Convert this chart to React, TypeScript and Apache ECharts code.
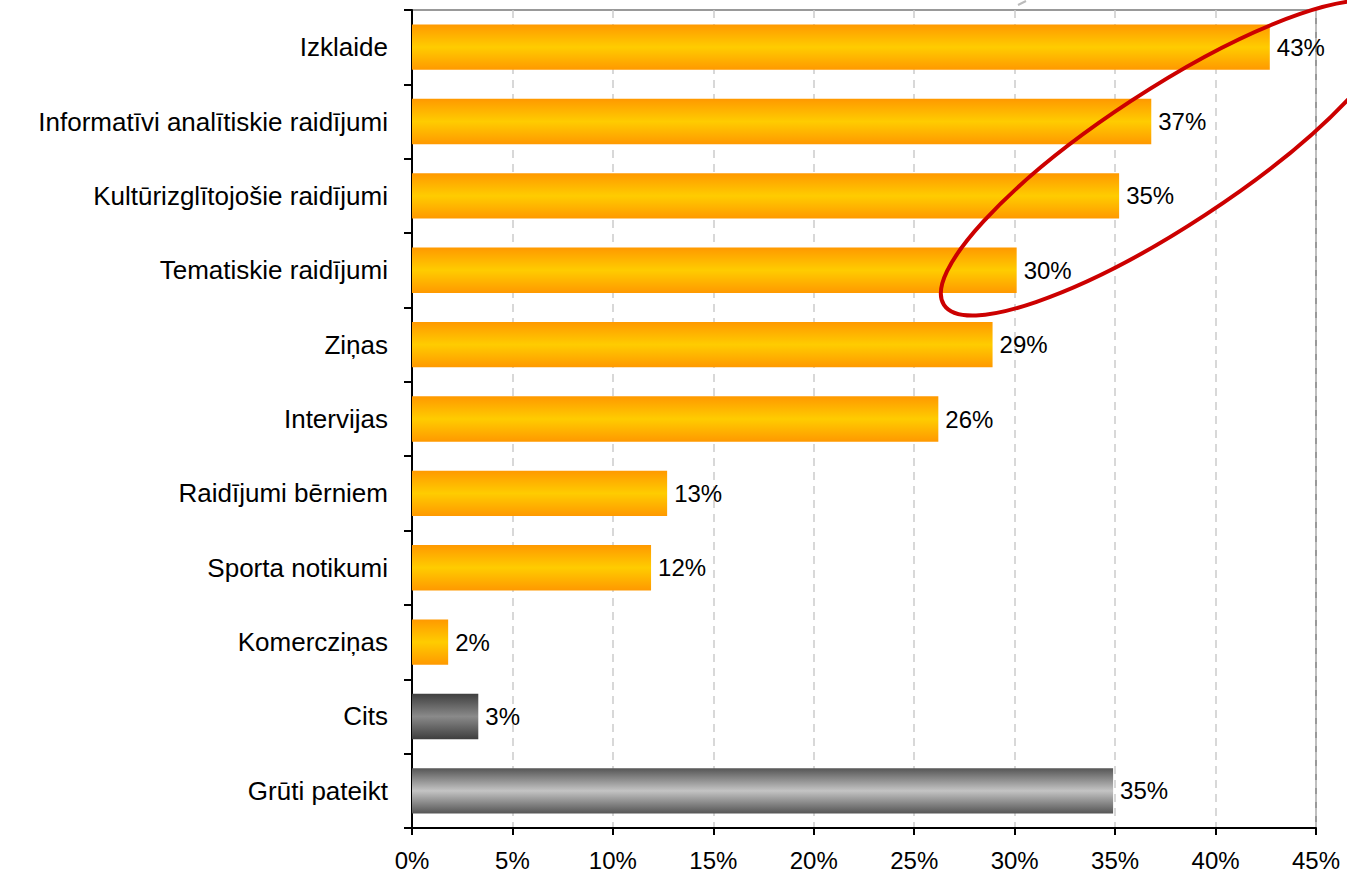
import React, { useEffect, useRef } from "react";
import * as echarts from "echarts";

const categories = [
  "Izklaide",
  "Informatīvi analītiskie raidījumi",
  "Kultūrizglītojošie raidījumi",
  "Tematiskie raidījumi",
  "Ziņas",
  "Intervijas",
  "Raidījumi bērniem",
  "Sporta notikumi",
  "Komercziņas",
  "Cits",
  "Grūti pateikt",
];
const values = [42.7, 36.8, 35.2, 30.1, 28.9, 26.2, 12.7, 11.9, 1.8, 3.3, 34.9];
const valueLabels = ["43%", "37%", "35%", "30%", "29%", "26%", "13%", "12%", "2%", "3%", "35%"];
const barKinds = ["o", "o", "o", "o", "o", "o", "o", "o", "o", "dark", "light"];

const grad = (edge: string, mid: string) =>
  new echarts.graphic.LinearGradient(0, 0, 0, 1, [
    { offset: 0, color: edge },
    { offset: 0.5, color: mid },
    { offset: 1, color: edge },
  ]);

export default function App() {
  const ref = useRef<HTMLDivElement>(null);
  useEffect(() => {
    if (!ref.current) return;
    const chart = echarts.init(ref.current, undefined, { renderer: "svg" });
    const font = "'Liberation Sans', Arial, Helvetica, sans-serif";
    const colorFor = (k: string) =>
      k === "dark" ? grad("#3f3f3f", "#8a8a8a") : k === "light" ? grad("#555555", "#c4c4c4") : grad("#ff9900", "#ffcc00");
    chart.setOption({
      animation: false,
      backgroundColor: "#ffffff",
      grid: {
        left: 412,
        right: 31,
        top: 10,
        bottom: 50,
        show: true,
        borderColor: "#999999",
        borderWidth: 2,
      },
      xAxis: {
        type: "value",
        min: 0,
        max: 45,
        interval: 5,
        axisLine: { show: true, lineStyle: { color: "#000", width: 2 } },
        axisTick: { show: true, length: 7, lineStyle: { color: "#000", width: 2 } },
        axisLabel: {
          formatter: (v: number) => v + "%",
          color: "#000",
          fontSize: 24,
          fontFamily: font,
          margin: 20,
        },
        splitLine: { show: true, lineStyle: { color: "#cccccc", type: [8, 6], width: 1.5 } },
      },
      yAxis: {
        type: "category",
        inverse: true,
        data: categories,
        axisLine: { show: true, lineStyle: { color: "#000", width: 2 } },
        axisTick: { show: true, length: 8, lineStyle: { color: "#000", width: 2 } },
        axisLabel: {
          color: "#000",
          fontSize: 26,
          fontFamily: font,
          margin: 24,
        },
        splitLine: { show: false },
      },
      series: [
        {
          type: "bar",
          barWidth: "61%",
          data: values.map((v, i) => ({
            value: v,
            itemStyle: { color: colorFor(barKinds[i]) },
          })),
          label: {
            show: true,
            position: "right",
            distance: 7,
            color: "#000",
            fontSize: 24,
            fontFamily: font,
            formatter: (p: any) => valueLabels[p.dataIndex],
          },
        },
      ],
      graphic: [
        {
          type: "ellipse",
          x: 1168,
          y: 158,
          rotation: 0.58,
          shape: { cx: 0, cy: 0, rx: 268, ry: 68 },
          style: { fill: "none", stroke: "#cc0000", lineWidth: 4 },
          z: 100,
        },
        {
          type: "line",
          shape: { x1: 1018, y1: 5, x2: 1026, y2: 1 },
          style: { stroke: "#bbbbbb", lineWidth: 2 },
        },
      ],
    });
    return () => chart.dispose();
  }, []);
  return (
    <div
      ref={ref}
      style={{ position: "fixed", left: 0, top: 0, width: 1347, height: 878 }}
    />
  );
}
